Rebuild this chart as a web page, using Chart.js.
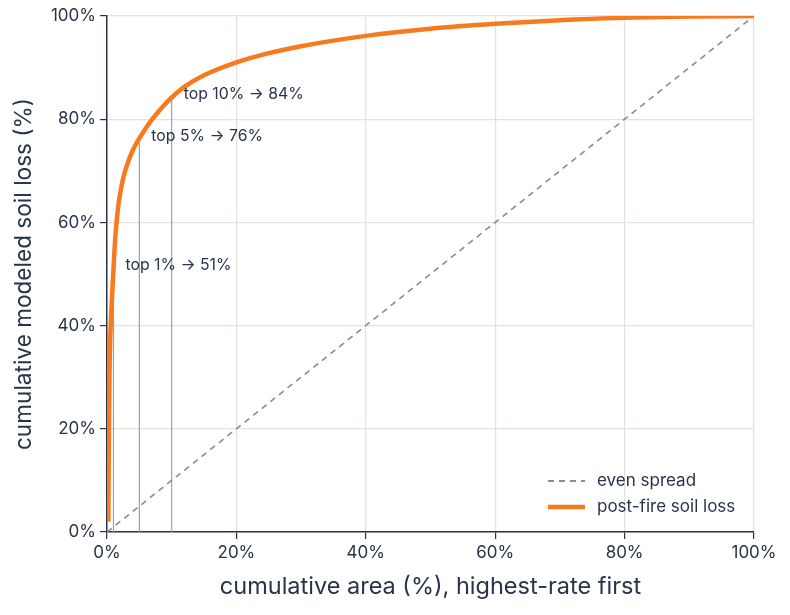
<!DOCTYPE html>
<html>
<head>
<meta charset="utf-8">
<script src="https://cdn.jsdelivr.net/npm/chart.js@4.4.1/dist/chart.umd.min.js"></script>
<style>
  html, body { margin: 0; background: #fff; }
  #wrap { width: 790px; height: 615px; }
</style>
</head>
<body>
<div id="wrap"><canvas id="lorenz"></canvas></div>
<script>
// cumulative area (%) vs cumulative modeled soil loss (%)
const areaPct = [0.2, 0.3, 0.4, 0.57, 0.75, 1, 1.3, 1.6, 1.9, 2.3, 2.7, 3.2, 3.8, 4.4, 5, 6, 7, 8, 9, 10, 12, 15, 20, 25, 30, 40, 50, 60, 70, 80, 90, 100];
const lossPct = [2, 20, 32, 40, 45, 51, 57.4, 61.6, 64.6, 67.4, 69.5, 71.5, 73.45, 75, 76.3, 78.25, 80, 81.55, 82.95, 84.2, 86.3, 88.5, 91, 92.8, 94.15, 96.15, 97.55, 98.5, 99.2, 99.65, 99.9, 100];

const evenArea = [0, 100];
const evenLoss = [0, 100];

// marked thresholds
const markArea = [1, 5, 10];
const markLoss = [51, 76, 84];
const markLabels = ["top 1% → 51%", "top 5% → 76%", "top 10% → 84%"];

const xTicks = [0, 20, 40, 60, 80, 100];
const yTicks = [0, 20, 40, 60, 80, 100];

const ink = "#27344a";
const orange = "#f77b1e";
const evenGray = "#8c8c8c";
const FONT = "Inter, 'Noto Sans', sans-serif";

const lossPoints = areaPct.map((x, i) => ({ x: x, y: lossPct[i] }));
const evenPoints = evenArea.map((x, i) => ({ x: x, y: evenLoss[i] }));

const markSets = markArea.map((x, i) => ({
  label: markLabels[i],
  data: [{ x: x, y: 0 }, { x: x, y: markLoss[i] }],
  borderColor: "#9aa1ab",
  borderWidth: 1.2,
  pointRadius: 0,
  tension: 0,
}));

const overlay = {
  id: "overlay",
  afterDatasetsDraw(chart) {
    const ctx = chart.ctx;
    const xs = chart.scales.x, ys = chart.scales.y;
    const ca = chart.chartArea;
    ctx.save();
    ctx.fillStyle = ink;
    ctx.font = "15.8px " + FONT;
    ctx.textAlign = "left";
    ctx.textBaseline = "middle";
    markArea.forEach((x, i) => {
      ctx.fillText(markLabels[i], xs.getPixelForValue(x) + 12, ys.getPixelForValue(markLoss[i]) - 4);
    });

    // legend, lower right inside the plot
    const x0 = ca.right - 206, x1 = ca.right - 169, tx = ca.right - 157;
    const r1 = ca.bottom - 51, r2 = ca.bottom - 25;
    ctx.lineCap = "butt";
    ctx.strokeStyle = evenGray;
    ctx.lineWidth = 1.8;
    ctx.setLineDash([6, 5]);
    ctx.beginPath(); ctx.moveTo(x0, r1); ctx.lineTo(x1, r1); ctx.stroke();
    ctx.setLineDash([]);
    ctx.strokeStyle = orange;
    ctx.lineWidth = 4.5;
    ctx.beginPath(); ctx.moveTo(x0, r2); ctx.lineTo(x1, r2); ctx.stroke();
    ctx.font = "17px " + FONT;
    ctx.fillText("even spread", tx, r1);
    ctx.fillText("post-fire soil loss", tx, r2);
    ctx.restore();
  },
};

new Chart(document.getElementById("lorenz"), {
  type: "line",
  data: {
    datasets: [
      {
        label: "post-fire soil loss",
        data: lossPoints,
        borderColor: orange,
        borderWidth: 4.5,
        pointRadius: 0,
        cubicInterpolationMode: "monotone",
      },
      {
        label: "even spread",
        data: evenPoints,
        borderColor: evenGray,
        borderWidth: 1.6,
        borderDash: [6, 5],
        pointRadius: 0,
      },
      ...markSets,
    ],
  },
  options: {
    responsive: true,
    maintainAspectRatio: false,
    animation: false,
    layout: { padding: { top: 16, right: 36, left: 0, bottom: 0 } },
    plugins: {
      legend: { display: false },
      tooltip: { enabled: false },
    },
    scales: {
      x: {
        type: "linear",
        min: 0,
        max: 100,
        afterBuildTicks: (s) => { s.ticks = xTicks.map((v) => ({ value: v })); },
        afterFit: (s) => { s.height = 83; },
        ticks: {
          color: ink,
          font: { family: FONT, size: 17 },
          padding: 4,
          callback: (v) => v + "%",
          maxRotation: 0,
        },
        grid: { color: "#e6e1da", lineWidth: 1.2, tickColor: ink, tickLength: 7 },
        border: { color: ink, width: 1.5 },
        title: {
          display: true,
          text: "cumulative area (%), highest-rate first",
          color: ink,
          font: { family: FONT, size: 23.5 },
          padding: { top: 4, bottom: 14 },
        },
      },
      y: {
        type: "linear",
        min: 0,
        max: 100,
        afterBuildTicks: (s) => { s.ticks = yTicks.map((v) => ({ value: v })); },
        afterFit: (s) => { s.width = 107; },
        ticks: {
          color: ink,
          font: { family: FONT, size: 17 },
          padding: 4,
          callback: (v) => v + "%",
        },
        grid: { color: "#e6e1da", lineWidth: 1.2, tickColor: ink, tickLength: 7 },
        border: { color: ink, width: 1.5 },
        title: {
          display: true,
          text: "cumulative modeled soil loss (%)",
          color: ink,
          font: { family: FONT, size: 22.6 },
          padding: { top: 11, bottom: 4 },
        },
      },
    },
  },
  plugins: [overlay],
});
</script>
</body>
</html>
